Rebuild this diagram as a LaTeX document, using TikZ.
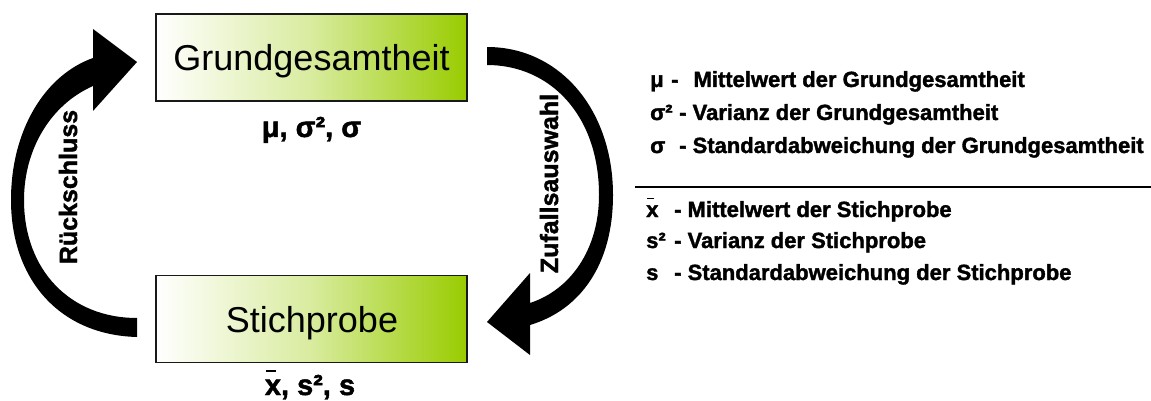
\documentclass[tikz,border=0pt]{standalone}
\usepackage{fontspec}
\setmainfont{Liberation Sans}[BoldFeatures={FakeBold=1.6}]
\definecolor{boxgreen}{RGB}{153,204,0}
\newcommand{\xbar}{\makebox[0pt][l]{\hspace{0.05em}\rule[0.8em]{0.32em}{0.075em}}x}
\tikzset{
  box/.style={draw=black!90, line width=1.5pt, left color=white, right color=boxgreen,
              middle color=boxgreen!38!white, minimum width=311pt, minimum height=87pt, inner sep=0pt},
  boxtext/.style={font=\fontsize{36}{40}\selectfont, anchor=base, inner sep=0pt},
  sym/.style={font=\bfseries\fontsize{29}{32}\selectfont, anchor=base, inner sep=0pt},
  leg/.style={font=\bfseries\fontsize{22}{26}\selectfont, anchor=base west, inner sep=0pt},
  rot/.style={font=\bfseries\fontsize{25}{28}\selectfont, anchor=base, rotate=90, inner sep=0pt},
  bigarrow/.style={fill=black, draw=none}
}
\begin{document}
\begin{tikzpicture}[x=1pt, y=-1pt]
\useasboundingbox (0,0) rectangle (1151,401);
% boxes
\node[box] (g) at (311.5,57.5) {};
\node[box] (s) at (311.5,319) {};
\node[boxtext] (gt) at (311.5,71) {Grundgesamtheit};
\node[boxtext] (st) at (312,332) {Stichprobe};
% labels under boxes
\node[sym] (gl) at (311.5,137) {μ, σ², σ};
\node[sym] (sl) at (310,395) {\xbar, s², s};
% left arrow (Rückschluss)
\fill[bigarrow] (137,337) .. controls (60,335) and (11,280) .. (11,200)
  .. controls (11,130) and (45,75) .. (93,58) -- (93,29) -- (137,62) -- (93,111) -- (93,86)
  .. controls (50,105) and (24,150) .. (24,200)
  .. controls (24,270) and (70,318) .. (137,318) -- cycle;
% right arrow (Zufallsauswahl)
\fill[bigarrow] (487,47) .. controls (560,47) and (613,110) .. (613,195)
  .. controls (613,265) and (580,310) .. (530,325) -- (530,355) -- (487,322) -- (530,273) -- (530,303)
  .. controls (570,290) and (599,250) .. (599,195)
  .. controls (599,115) and (550,65) .. (487,65) -- cycle;
\node[rot] (rs) at (77,187) {Rückschluss};
\node[rot] (za) at (558,183.5) {Zufallsauswahl};
% legend
\node[leg] (l1s) at (650,87) {μ};
\node[leg] (l1t) at (671,87) {-\hspace{15pt}Mittelwert der Grundgesamtheit};
\node[leg] (l2s) at (650,120) {σ²};
\node[leg] (l2t) at (679,120) {- Varianz der Grundgesamtheit};
\node[leg] (l3s) at (650,153) {σ};
\node[leg] (l3t) at (679,153) {- Standardabweichung der Grundgesamtheit};
\draw[line width=1.5pt] (635,187) -- (1151,187);
\node[leg] (l4s) at (646,217) {\xbar};
\node[leg] (l4t) at (674,217) {- Mittelwert der Stichprobe};
\node[leg] (l5s) at (646,248) {s²};
\node[leg] (l5t) at (674,248) {- Varianz der Stichprobe};
\node[leg] (l6s) at (646,280) {s};
\node[leg] (l6t) at (674,280) {- Standardabweichung der Stichprobe};
\end{tikzpicture}
\end{document}
